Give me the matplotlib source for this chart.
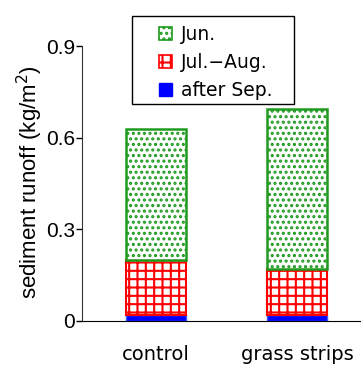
import matplotlib
matplotlib.use("Agg")
import matplotlib.pyplot as plt
import matplotlib.patches as mpatches
import numpy as np

categories = ["control", "grass strips"]
after_sep = [0.02, 0.02]
jul_aug = [0.18, 0.15]
jun = [0.43, 0.525]
yticks = [0, 0.3, 0.6, 0.9]
yticklabels = ["0", "0.3", "0.6", "0.9"]
legend_labels = ["Jun.", "Jul.\u2212Aug.", "after Sep."]

GREEN = "#1f9a1f"
RED = "#ff0000"
BLUE = "#0000ff"

plt.rcParams["hatch.linewidth"] = 1.5

fig = plt.figure(figsize=(3.61, 3.65), dpi=100)
ax = fig.add_axes([82/361, 44/365, (361-82)/361, 275/365])

x = np.arange(len(categories))
w = 0.425
b1 = np.array(after_sep)
b2 = b1 + np.array(jul_aug)

ax.bar(x, after_sep, width=w, color=BLUE, edgecolor="#3b5bff", linewidth=1.0, zorder=2)
ax.bar(x, jul_aug, bottom=b1, width=w, facecolor="white", edgecolor=RED,
       hatch="++", linewidth=1.5, zorder=2)
ax.bar(x, jun, bottom=b2, width=w, facecolor="white", edgecolor=GREEN,
       hatch="...", linewidth=1.8, zorder=2)

ax.set_xlim(-0.525, 1.454)
ax.set_ylim(0, 0.9)
ax.set_yticks(yticks)
ax.set_yticklabels(yticklabels, fontsize=15, family="Liberation Sans")
ax.set_xticks(x)
ax.set_xticklabels(categories, fontsize=14, family="DejaVu Sans")
ax.tick_params(axis="x", length=0, pad=17)
ax.tick_params(axis="y", direction="out", length=4, width=1, pad=1)
for s in ["top", "right"]:
    ax.spines[s].set_visible(False)
ax.spines["left"].set_color("#333333")
ax.spines["bottom"].set_color("black")

fig.text(30/361, 1-182/365, "sediment runoff (kg/m$^2$)", rotation=90,
         ha="center", va="center", fontsize=16, family="Liberation Sans")

handles = [
    mpatches.Patch(facecolor="white", edgecolor=GREEN, hatch="...", linewidth=1.2),
    mpatches.Patch(facecolor="white", edgecolor=RED, hatch="++", linewidth=1.2),
    mpatches.Patch(facecolor=BLUE, edgecolor=BLUE),
]
leg = fig.legend(handles, legend_labels, loc="upper left",
                 bbox_to_anchor=(146/361, 1-12/365), frameon=False,
                 prop={"family": "DejaVu Sans", "size": 13.5},
                 handlelength=0.7, handleheight=0.7, handletextpad=0.45,
                 labelspacing=0.48, borderpad=0.2)
box = mpatches.Rectangle((132/361, 1-104/365), 162/361, 88/365,
                         transform=fig.transFigure, facecolor="white",
                         edgecolor="black", linewidth=1.0, zorder=0)
fig.patches.append(box)

fig.savefig("out.png", dpi=100)
